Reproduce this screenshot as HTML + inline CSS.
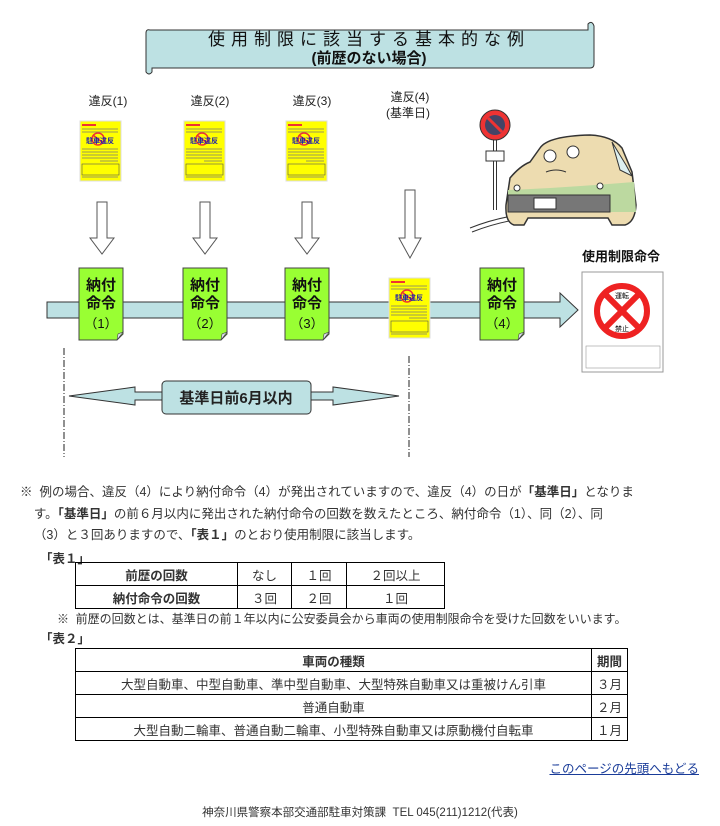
<!DOCTYPE html>
<html><head><meta charset="utf-8"><style>
body{margin:0;width:720px;height:826px;background:#fff;font-family:"Liberation Sans","Noto Sans CJK JP",sans-serif;position:relative;overflow:hidden;color:#333}
svg{position:absolute;left:0;top:0}
.p{position:absolute;left:20px;top:482px;width:680px;font-size:12.5px;line-height:21.5px;color:#333}
.t{position:absolute;border-collapse:collapse;font-size:12.5px;color:#333}
.t td{border:1px solid #000;text-align:center;height:22px;padding:0}
.lbl{position:absolute;font-size:12.5px;font-weight:bold;color:#333}
</style></head><body>
<svg width="720" height="470" viewBox="0 0 720 470" font-family="Liberation Sans, Noto Sans CJK JP, sans-serif">
<defs>
<g id="tk"><rect x="0" y="0" width="41" height="60" fill="#ffff00" stroke="#ddd"/>
<rect x="2" y="3" width="14" height="2" fill="#e33"/>
<g stroke="#777" stroke-width="0.8"><line x1="2" y1="8" x2="38" y2="8"/><line x1="2" y1="11" x2="38" y2="11"/><line x1="2" y1="28" x2="38" y2="28"/><line x1="2" y1="31" x2="38" y2="31"/><line x1="2" y1="34" x2="38" y2="34"/><line x1="2" y1="37" x2="38" y2="37"/><line x1="20" y1="40" x2="38" y2="40"/><line x1="2" y1="56" x2="38" y2="56"/></g>
<rect x="2" y="43" width="37" height="11" fill="none" stroke="#555" stroke-width="0.6"/>
<circle cx="18" cy="18" r="6" fill="none" stroke="#e33" stroke-width="1.5"/><line x1="13" y1="14" x2="23" y2="22" stroke="#e33" stroke-width="1.5"/>
<text x="20" y="22" font-size="7" font-weight="bold" fill="#22a" text-anchor="middle">駐車違反</text></g>
<g id="nf"><path d="M0 0H44V66L38 72H0Z" fill="#99ff33" stroke="#444"/><path d="M44 64L38 72L39 66Z" fill="#dde" stroke="#444" stroke-width="0.6"/></g>
<g id="da"><path d="M-5 0H5V36H12L0 52L-12 36H-5Z" fill="#fff" stroke="#555"/></g>
</defs>
<!-- banner -->
<path d="M146 33Q146 29 150 30H588V24Q592 20 594 26V64Q594 68 590 68H152V72Q149 76 146 72Z" fill="#bde1e3" stroke="#333"/>
<text x="369" y="45" font-size="17" text-anchor="middle" letter-spacing="6" fill="#111">使用制限に該当する基本的な例</text>
<text x="369" y="63" font-size="15" text-anchor="middle" font-weight="bold" fill="#111">(前歴のない場合)</text>
<g font-size="12" fill="#222" text-anchor="middle"><text x="108" y="105">違反(1)</text><text x="210" y="105">違反(2)</text><text x="312" y="105">違反(3)</text><text x="410" y="101">違反(4)</text><text x="408" y="117">(基準日)</text></g>
<use href="#tk" x="80" y="121"/><use href="#tk" x="184" y="121"/><use href="#tk" x="286" y="121"/>
<use href="#da" x="102" y="202"/><use href="#da" x="205" y="202"/><use href="#da" x="307" y="202"/>
<path d="M405 190H415V238H421L410 258L399 238H405Z" fill="#fff" stroke="#555"/>
<!-- sign & car -->
<line x1="495" y1="140" x2="495" y2="210" stroke="#333" stroke-width="4"/><line x1="495" y1="140" x2="495" y2="210" stroke="#fff" stroke-width="2"/>
<rect x="486" y="151" width="18" height="10" fill="#fff" stroke="#333"/>
<circle cx="495" cy="125" r="15" fill="#e33" stroke="#333"/><circle cx="495" cy="125" r="10" fill="#446"/><line x1="488" y1="118" x2="502" y2="132" stroke="#e33" stroke-width="3"/>
<path d="M470 228Q490 220 512 216M472 232Q492 224 514 220" stroke="#333" fill="none"/>
<path d="M540 148Q548 136 590 135Q612 136 622 148L632 172L636 205Q635 222 625 225H612L608 218H528L524 225H514Q505 222 506 205L510 178Q520 166 530 162Z" fill="#eddcb0" stroke="#333" stroke-width="1.5"/>
<path d="M508 190Q560 188 634 182L636 212H508Z" fill="#bcd9a0"/>
<path d="M612 142L626 165L632 176L620 170Z" fill="#ddf0f0" stroke="#333"/>
<rect x="508" y="195" width="102" height="17" fill="#777" stroke="#333"/><rect x="534" y="198" width="22" height="11" fill="#fff" stroke="#333"/>
<circle cx="550" cy="156" r="6" fill="#fff" stroke="#333"/><circle cx="573" cy="152" r="6" fill="#fff" stroke="#333"/>
<path d="M546 172Q556 168 566 172" stroke="#333" fill="none"/>
<circle cx="517" cy="188" r="3" fill="#fff" stroke="#333"/><circle cx="600" cy="186" r="3" fill="#fff" stroke="#333"/>
<!-- main arrow -->
<path d="M47 302H560V293L578 310L560 327V318H47Z" fill="#bde1e3" stroke="#333"/>
<use href="#nf" x="79" y="268"/><use href="#nf" x="183" y="268"/><use href="#nf" x="285" y="268"/><use href="#nf" x="480" y="268"/>
<g font-size="15" fill="#111" text-anchor="middle" font-weight="bold"><text x="101" y="290">納付</text><text x="101" y="308">命令</text><text x="205" y="290">納付</text><text x="205" y="308">命令</text><text x="307" y="290">納付</text><text x="307" y="308">命令</text><text x="502" y="290">納付</text><text x="502" y="308">命令</text></g>
<g font-size="13" fill="#111" text-anchor="middle"><text x="101" y="328">（1）</text><text x="205" y="328">（2）</text><text x="307" y="328">（3）</text><text x="502" y="328">（4）</text></g>
<use href="#tk" x="389" y="278"/>
<!-- right doc -->
<text x="621" y="261" font-size="13" font-weight="bold" text-anchor="middle" fill="#111">使用制限命令</text>
<rect x="582" y="272" width="81" height="100" fill="#fff" stroke="#999"/>
<circle cx="622" cy="311" r="25" fill="none" stroke="#e22" stroke-width="6"/>
<line x1="605" y1="294" x2="639" y2="328" stroke="#e22" stroke-width="6"/><line x1="639" y1="294" x2="605" y2="328" stroke="#e22" stroke-width="6"/>
<text x="622" y="298" font-size="7" text-anchor="middle">運転</text><text x="622" y="331" font-size="7" text-anchor="middle">禁止</text>
<rect x="586" y="346" width="74" height="22" fill="none" stroke="#999" stroke-width="0.6"/>
<!-- dash dot -->
<line x1="64" y1="348" x2="64" y2="457" stroke="#222" stroke-dasharray="7,2,1,2"/>
<line x1="409" y1="356" x2="409" y2="457" stroke="#222" stroke-dasharray="7,2,1,2"/>
<!-- double arrow -->
<path d="M69 396L135 387V392H168V400H135V405Z" fill="#bde1e3" stroke="#333"/>
<path d="M399 396L333 387V392H300V400H333V405Z" fill="#bde1e3" stroke="#333"/>
<rect x="162" y="381" width="149" height="33" rx="4" fill="#bde1e3" stroke="#333"/>
<text x="236" y="403" font-size="15" font-weight="bold" text-anchor="middle" fill="#222">基準日前6月以内</text>
</svg>
<div class="p">※&nbsp; 例の場合、違反（4）により納付命令（4）が発出されていますので、違反（4）の日が<b>「基準日」</b>となりま<br>&nbsp;&nbsp;&nbsp;&nbsp;す。<b>「基準日」</b>の前６月以内に発出された納付命令の回数を数えたところ、納付命令（1）、同（2）、同<br>&nbsp;&nbsp;&nbsp;&nbsp;（3）と３回ありますので、<b>「表１」</b>のとおり使用制限に該当します。</div>
<div class="lbl" style="left:40px;top:548px">「表１」</div>
<table class="t" style="left:75px;top:562px;width:370px"><tr><td style="width:161px"><b>前歴の回数</b></td><td style="width:53px">なし</td><td style="width:54px">１回</td><td>２回以上</td></tr><tr><td><b>納付命令の回数</b></td><td>３回</td><td>２回</td><td>１回</td></tr></table>
<div style="position:absolute;left:57px;top:610px;font-size:12px;color:#333">※&nbsp; 前歴の回数とは、基準日の前１年以内に公安委員会から車両の使用制限命令を受けた回数をいいます。</div>
<div class="lbl" style="left:40px;top:628px">「表２」</div>
<table class="t" style="left:75px;top:648px;width:553px"><tr><td style="width:515px"><b>車両の種類</b></td><td><b>期間</b></td></tr><tr><td>大型自動車、中型自動車、準中型自動車、大型特殊自動車又は重被けん引車</td><td>３月</td></tr><tr><td>普通自動車</td><td>２月</td></tr><tr><td>大型自動二輪車、普通自動二輪車、小型特殊自動車又は原動機付自転車</td><td>１月</td></tr></table>
<div style="position:absolute;right:21px;top:758px;font-size:12.5px;color:#1a3c99;text-decoration:underline">このページの先頭へもどる</div>
<div style="position:absolute;left:0;width:720px;top:804px;text-align:center;font-size:11.5px;color:#333">神奈川県警察本部交通部駐車対策課&nbsp; TEL 045(211)1212(代表)</div>
</body></html>
